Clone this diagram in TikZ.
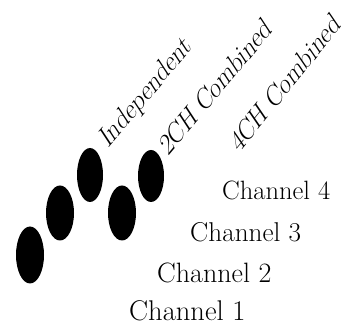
\documentclass[tikz,border=0pt]{standalone}
\usepackage{fontspec}
\begin{document}
\begin{tikzpicture}[x=1pt,y=1pt,
  dot/.style={fill=black,draw=none},
  chan/.style={inner sep=0pt,anchor=base west},
  lab/.style={inner sep=0pt,anchor=base west,transform shape,font=\fontsize{26.5}{28}\selectfont}]
\useasboundingbox (0,0) rectangle (355,331);
\fill[dot] (30,76) ellipse [x radius=14,y radius=28.5];
\fill[dot] (60,118) ellipse [x radius=14,y radius=27.5];
\fill[dot] (90,156) ellipse [x radius=13,y radius=27];
\fill[dot] (122,118) ellipse [x radius=14,y radius=27.5];
\fill[dot] (151,155) ellipse [x radius=13,y radius=26];
\node[chan,font=\fontsize{28.5}{30}\selectfont] (c1) at (129,10) {Channel 1};
\node[chan,font=\fontsize{28}{29}\selectfont] (c2) at (157,48) {Channel 2};
\node[chan,font=\fontsize{27.2}{29}\selectfont] (c3) at (190,89) {Channel 3};
\node[chan,font=\fontsize{26.5}{28}\selectfont] (c4) at (222,131) {Channel 4};
\begin{scope}[shift={(108,182)},rotate=50,xslant=0.3]
\node[lab] (l1) at (0,0) {Independent};
\end{scope}
\begin{scope}[shift={(168,174)},rotate=50,xslant=0.3]
\node[lab] (l2) at (0,0) {2CH Combined};
\end{scope}
\begin{scope}[shift={(239,177)},rotate=51,xslant=0.3]
\node[lab] (l3) at (0,0) {4CH Combined};
\end{scope}
\end{tikzpicture}
\end{document}
